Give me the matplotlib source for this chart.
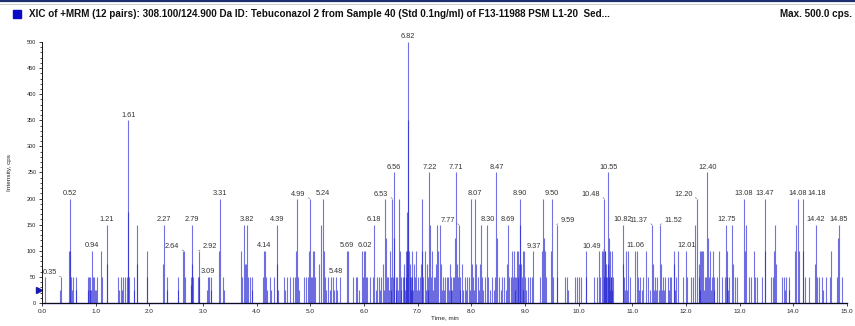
import matplotlib
matplotlib.use("Agg")
import matplotlib.pyplot as plt
import matplotlib.transforms as mtransforms
from matplotlib.ticker import MultipleLocator
import numpy as np

plt.rcParams['font.family'] = ['Liberation Sans', 'DejaVu Sans']

# labelled peaks: retention time (min) and apex intensity (cps)
peak_t = [0.35, 0.52, 0.94, 1.21, 1.61, 2.27, 2.64, 2.79, 2.92, 3.09,
          3.31, 3.82, 4.14, 4.39, 4.99, 5.24, 5.48, 5.69, 6.02, 6.18,
          6.53, 6.56, 6.82, 7.22, 7.71, 7.77, 8.07, 8.30, 8.47, 8.69,
          8.90, 9.37, 9.50, 9.59, 10.48, 10.49, 10.55, 10.82, 11.06,
          11.37, 11.52, 12.01, 12.20, 12.40, 12.75, 13.08, 13.47,
          14.08, 14.18, 14.42, 14.85]
peak_v = [50, 200, 100, 150, 350, 150, 100, 150, 100, 50,
          200, 150, 100, 150, 200, 200, 50, 100, 100, 150,
          200, 250, 500, 250, 250, 150, 200, 150, 250, 150,
          200, 100, 200, 150, 200, 100, 250, 150, 100,
          150, 150, 100, 200, 250, 150, 200, 200,
          200, 200, 150, 150]

# how each label is tied to its peak
left_tagged = [0.35, 2.64, 4.99, 6.53, 7.77, 9.37, 10.48, 10.49, 11.37, 12.20]
right_tagged = [2.92, 9.59, 11.52]
right_side = [14.18]

# unlabelled scan spikes, 0-5 min
early_t = [0.06, 0.34, 0.51, 0.53, 0.55, 0.56, 0.58, 0.63, 0.64,
           0.85, 0.86, 0.88, 0.89, 0.90, 0.92, 0.95, 0.98, 0.99, 1.01, 1.03,
           1.11, 1.12, 1.22, 1.42, 1.43, 1.48, 1.50, 1.52, 1.55, 1.58,
           1.60, 1.62, 1.71, 1.72, 1.77, 1.78, 1.95, 1.96,
           2.26, 2.33, 2.34, 2.53, 2.54, 2.63, 2.66, 2.77, 2.78,
           2.80, 2.82, 2.91, 2.93, 3.08, 3.12, 3.15, 3.16,
           3.30, 3.38, 3.39, 3.71, 3.72, 3.77, 3.78, 3.81, 3.84,
           3.87, 3.91, 3.92, 4.12, 4.16, 4.18, 4.19, 4.25, 4.26, 4.33,
           4.38, 4.40, 4.52, 4.53, 4.56, 4.63, 4.67, 4.72, 4.74, 4.76,
           4.78, 4.80, 4.88, 4.92, 4.95, 4.98]
early_v = [50, 25, 100, 100, 50, 25, 50, 50, 25,
           50, 25, 50, 25, 50, 25, 50, 50, 25, 25, 50,
           100, 50, 75, 50, 25, 50, 25, 50, 50, 50,
           175, 50, 50, 25, 150, 75, 100, 50,
           75, 50, 25, 50, 25, 100, 50, 50, 35,
           75, 50, 50, 50, 25, 50, 50, 25,
           100, 50, 25, 100, 50, 150, 75, 75, 50,
           50, 50, 25, 50, 100, 50, 25, 50, 25, 50,
           75, 25, 50, 25, 50, 50, 50, 50, 100, 200,
           50, 25, 50, 50, 50, 100]

# unlabelled scan spikes, 5-10 min
mid_t = [5.01, 5.03, 5.05, 5.07, 5.09, 5.16, 5.20, 5.25, 5.27, 5.30,
         5.33, 5.36, 5.39, 5.42, 5.45, 5.50, 5.55, 5.71, 5.80,
         5.85, 5.88, 5.90, 5.97, 5.99, 6.00, 6.04, 6.06, 6.12, 6.17,
         6.22, 6.25, 6.28, 6.30, 6.32, 6.35, 6.37, 6.40, 6.41, 6.43, 6.45,
         6.46, 6.48, 6.50, 6.51, 6.54, 6.57, 6.59, 6.60, 6.62, 6.64, 6.66,
         6.67, 6.69, 6.70, 6.72, 6.74, 6.75, 6.77, 6.78, 6.79, 6.80, 6.81,
         6.83, 6.84, 6.85, 6.86, 6.87, 6.88, 6.89, 6.90, 6.91, 6.93, 6.95,
         6.97, 6.99, 7.00, 7.02, 7.04, 7.06, 7.08, 7.09, 7.11, 7.13, 7.15,
         7.17, 7.19, 7.20, 7.24, 7.25, 7.27, 7.29, 7.30, 7.32, 7.35, 7.37,
         7.39, 7.41, 7.43, 7.45, 7.48, 7.50, 7.52, 7.55, 7.57, 7.58, 7.60,
         7.62, 7.63, 7.65, 7.66, 7.68, 7.69, 7.73, 7.75, 7.79, 7.80, 7.83,
         7.85, 7.88, 7.90, 7.92, 7.95, 7.97, 7.99, 8.01, 8.04, 8.05, 8.09,
         8.12, 8.14, 8.16, 8.18, 8.20, 8.22, 8.25, 8.31, 8.35, 8.39, 8.42,
         8.44, 8.48, 8.52, 8.55, 8.57, 8.62, 8.64, 8.66, 8.71, 8.74, 8.76,
         8.78, 8.79, 8.81, 8.82, 8.84, 8.85, 8.87, 8.88, 8.89, 8.91, 8.93,
         8.94, 8.96, 8.97, 8.98, 9.00, 9.02, 9.05, 9.10, 9.13, 9.15, 9.28,
         9.31, 9.33, 9.35, 9.40, 9.48, 9.52, 9.60, 9.75, 9.78, 9.80,
         9.93, 9.97]
mid_v = [50, 50, 100, 100, 50, 75, 150, 100, 50, 25,
         50, 25, 50, 50, 25, 25, 50, 100, 50,
         50, 50, 25, 100, 50, 100, 50, 50, 50, 50,
         25, 50, 50, 25, 50, 75, 25, 200, 125, 50, 50,
         25, 100, 50, 25, 50, 125, 25, 50, 50, 25, 200,
         100, 50, 25, 50, 50, 75, 25, 100, 50, 175, 100,
         350, 100, 50, 75, 25, 50, 50, 100, 25, 75, 50,
         100, 25, 50, 25, 50, 75, 200, 100, 50, 100, 25,
         75, 25, 50, 150, 50, 100, 25, 50, 50, 75, 150,
         100, 150, 75, 25, 50, 25, 50, 50, 50, 25, 75,
         25, 50, 25, 50, 50, 125, 75, 50, 25, 50, 75,
         25, 50, 25, 50, 50, 25, 200, 75, 50, 25, 75,
         50, 25, 75, 150, 50, 25, 50, 50, 25, 50, 25,
         50, 125, 50, 25, 50, 50, 25, 75, 50, 50, 100,
         50, 100, 25, 50, 50, 100, 100, 50, 75, 150, 75,
         50, 100, 25, 100, 50, 25, 50, 50, 50, 100, 50,
         100, 200, 125, 50, 100, 50, 50, 50, 50, 25,
         50, 50]

# unlabelled scan spikes, 10-15 min
late_t = [10.01, 10.04, 10.13, 10.14, 10.28, 10.35, 10.38, 10.40, 10.44,
          10.46, 10.47, 10.50, 10.51, 10.52, 10.53, 10.54, 10.56, 10.57,
          10.58, 10.59, 10.60, 10.61, 10.62, 10.63, 10.64, 10.83, 10.85,
          10.86, 10.88, 10.90, 10.92, 10.95, 11.08, 11.10, 11.12, 11.15,
          11.18, 11.20, 11.26, 11.30, 11.33, 11.38, 11.40, 11.42, 11.44,
          11.46, 11.49, 11.53, 11.55, 11.58, 11.60, 11.62, 11.66, 11.68,
          11.70, 11.73, 11.77, 11.78, 11.80, 11.82, 11.85, 11.95, 12.02,
          12.09, 12.14, 12.17, 12.24, 12.25, 12.26, 12.27, 12.28, 12.30,
          12.32, 12.33, 12.35, 12.37, 12.41, 12.43, 12.45, 12.47, 12.49,
          12.50, 12.52, 12.53, 12.58, 12.62, 12.68, 12.72, 12.76, 12.77,
          12.79, 12.80, 12.86, 12.88, 12.92, 12.96, 13.10, 13.12, 13.17,
          13.22, 13.27, 13.29, 13.33, 13.42, 13.48, 13.58, 13.62,
          13.64, 13.66, 13.68, 13.80, 13.82, 13.84, 13.87, 13.92, 13.93,
          14.04, 14.06, 14.10, 14.19, 14.22, 14.30, 14.40,
          14.44, 14.48, 14.53, 14.55, 14.62, 14.68, 14.71, 14.82,
          14.84, 14.90]
late_v = [50, 50, 100, 50, 50, 50, 100, 50, 100,
          100, 50, 100, 50, 75, 50, 75, 125, 50,
          100, 25, 50, 50, 100, 25, 50, 75, 50,
          25, 100, 25, 100, 50, 100, 50, 25, 50,
          25, 50, 100, 50, 25, 75, 25, 50, 25,
          50, 25, 75, 25, 50, 25, 50, 50, 25,
          50, 50, 100, 75, 25, 50, 100, 50, 50,
          50, 50, 150, 75, 50, 100, 25, 100, 100,
          100, 25, 50, 50, 125, 50, 100, 25, 50,
          100, 50, 25, 50, 100, 50, 50, 50, 100,
          25, 50, 150, 75, 50, 50, 100, 150, 50,
          50, 100, 50, 50, 50, 100, 50, 50,
          100, 150, 75, 50, 50, 25, 50, 50, 25,
          100, 150, 100, 100, 50, 50, 75,
          50, 50, 50, 25, 50, 50, 100, 50,
          125, 50]

spike_t = np.array(early_t + mid_t + late_t + peak_t)
spike_v = np.array(early_v + mid_v + late_v + peak_v)

fig = plt.figure(figsize=(8.55, 3.26), dpi=100)
ax = fig.add_axes([0.049, 0.0706, 0.9415, 0.8006])

ax.vlines(spike_t, 0, spike_v, color='#1c1cd0', lw=0.8, alpha=0.62,
          clip_on=False)
ax.plot([0, 15], [0, 0], color='#1a1ab0', lw=1.0, clip_on=False)

tie = dict(arrowstyle='-', lw=0.4, color='#555555', shrinkA=0, shrinkB=0)
lab_kw = dict(fontsize=5.3, color='#333333', textcoords='offset points')
for t, v in zip(peak_t, peak_v):
    text = f"{t:.2f}"
    if t in left_tagged:
        ax.annotate(text, (t, v), xytext=(-3, 0.5), ha='right', va='bottom',
                    arrowprops=dict(tie, relpos=(1, 0.3)), **lab_kw)
    elif t in right_tagged:
        ax.annotate(text, (t, v), xytext=(3, 0.5), ha='left', va='bottom',
                    arrowprops=dict(tie, relpos=(0, 0.3)), **lab_kw)
    elif t in right_side:
        ax.annotate(text, (t, v), xytext=(3.2, 1.2), ha='left', va='bottom',
                    **lab_kw)
    else:
        ax.annotate(text, (t, v), xytext=(0, 1.2), ha='center', va='bottom',
                    **lab_kw)

ax.set_xlim(0, 15)
ax.set_ylim(0, 500)
ax.xaxis.set_major_locator(MultipleLocator(1.0))
ax.yaxis.set_major_locator(MultipleLocator(50))
ax.yaxis.set_minor_locator(MultipleLocator(10))
ax.set_xticklabels([f"{x:.1f}" for x in ax.get_xticks()])
ax.tick_params(axis='x', labelsize=4.6, length=2.5, width=0.6, pad=1.5,
               colors='#222222')
ax.tick_params(axis='y', labelsize=4.0, length=2.5, width=0.6, pad=1.5,
               colors='#222222')
ax.tick_params(axis='y', which='minor', length=1.3, width=0.5)
for side in ('top', 'right'):
    ax.spines[side].set_visible(False)
for side in ('left', 'bottom'):
    ax.spines[side].set_linewidth(0.7)
    ax.spines[side].set_color('#111111')

ax.set_xlabel('Time, min', fontsize=4.6, labelpad=1, color='#222222')
ax.set_ylabel('Intensity, cps', fontsize=4.6, labelpad=11, color='#222222')

# start-of-trace marker on the y axis
trans = mtransforms.blended_transform_factory(ax.transAxes, ax.transData)
ax.plot([-0.003], [25], marker='>', ms=4, color='#1a1ab0', transform=trans,
        clip_on=False)

# header bar
fig.add_artist(plt.Line2D([0, 1], [0.996, 0.996], color='#1c2f6e', lw=1.6))
fig.add_artist(plt.Line2D([0, 1], [0.988, 0.988], color='#c8c8c8', lw=0.6))
fig.add_artist(plt.Rectangle((13 / 855, 1 - 17.5 / 326), 8 / 855, 7.5 / 326,
                             color='#0a0ac8'))
fig.text(29 / 855, 1 - 14 / 326,
         'XIC of +MRM (12 pairs): 308.100/124.900 Da ID: Tebuconazol 2 from '
         'Sample 40 (Std 0.1ng/ml) of F13-11988 PSM L1-20  Sed...',
         fontsize=7.1, fontweight='bold', va='center', ha='left', color='#111111')
fig.text(852 / 855, 1 - 14 / 326, 'Max. 500.0 cps.', fontsize=7.1,
         fontweight='bold', va='center', ha='right', color='#111111')

fig.savefig('out.png', dpi=100)
